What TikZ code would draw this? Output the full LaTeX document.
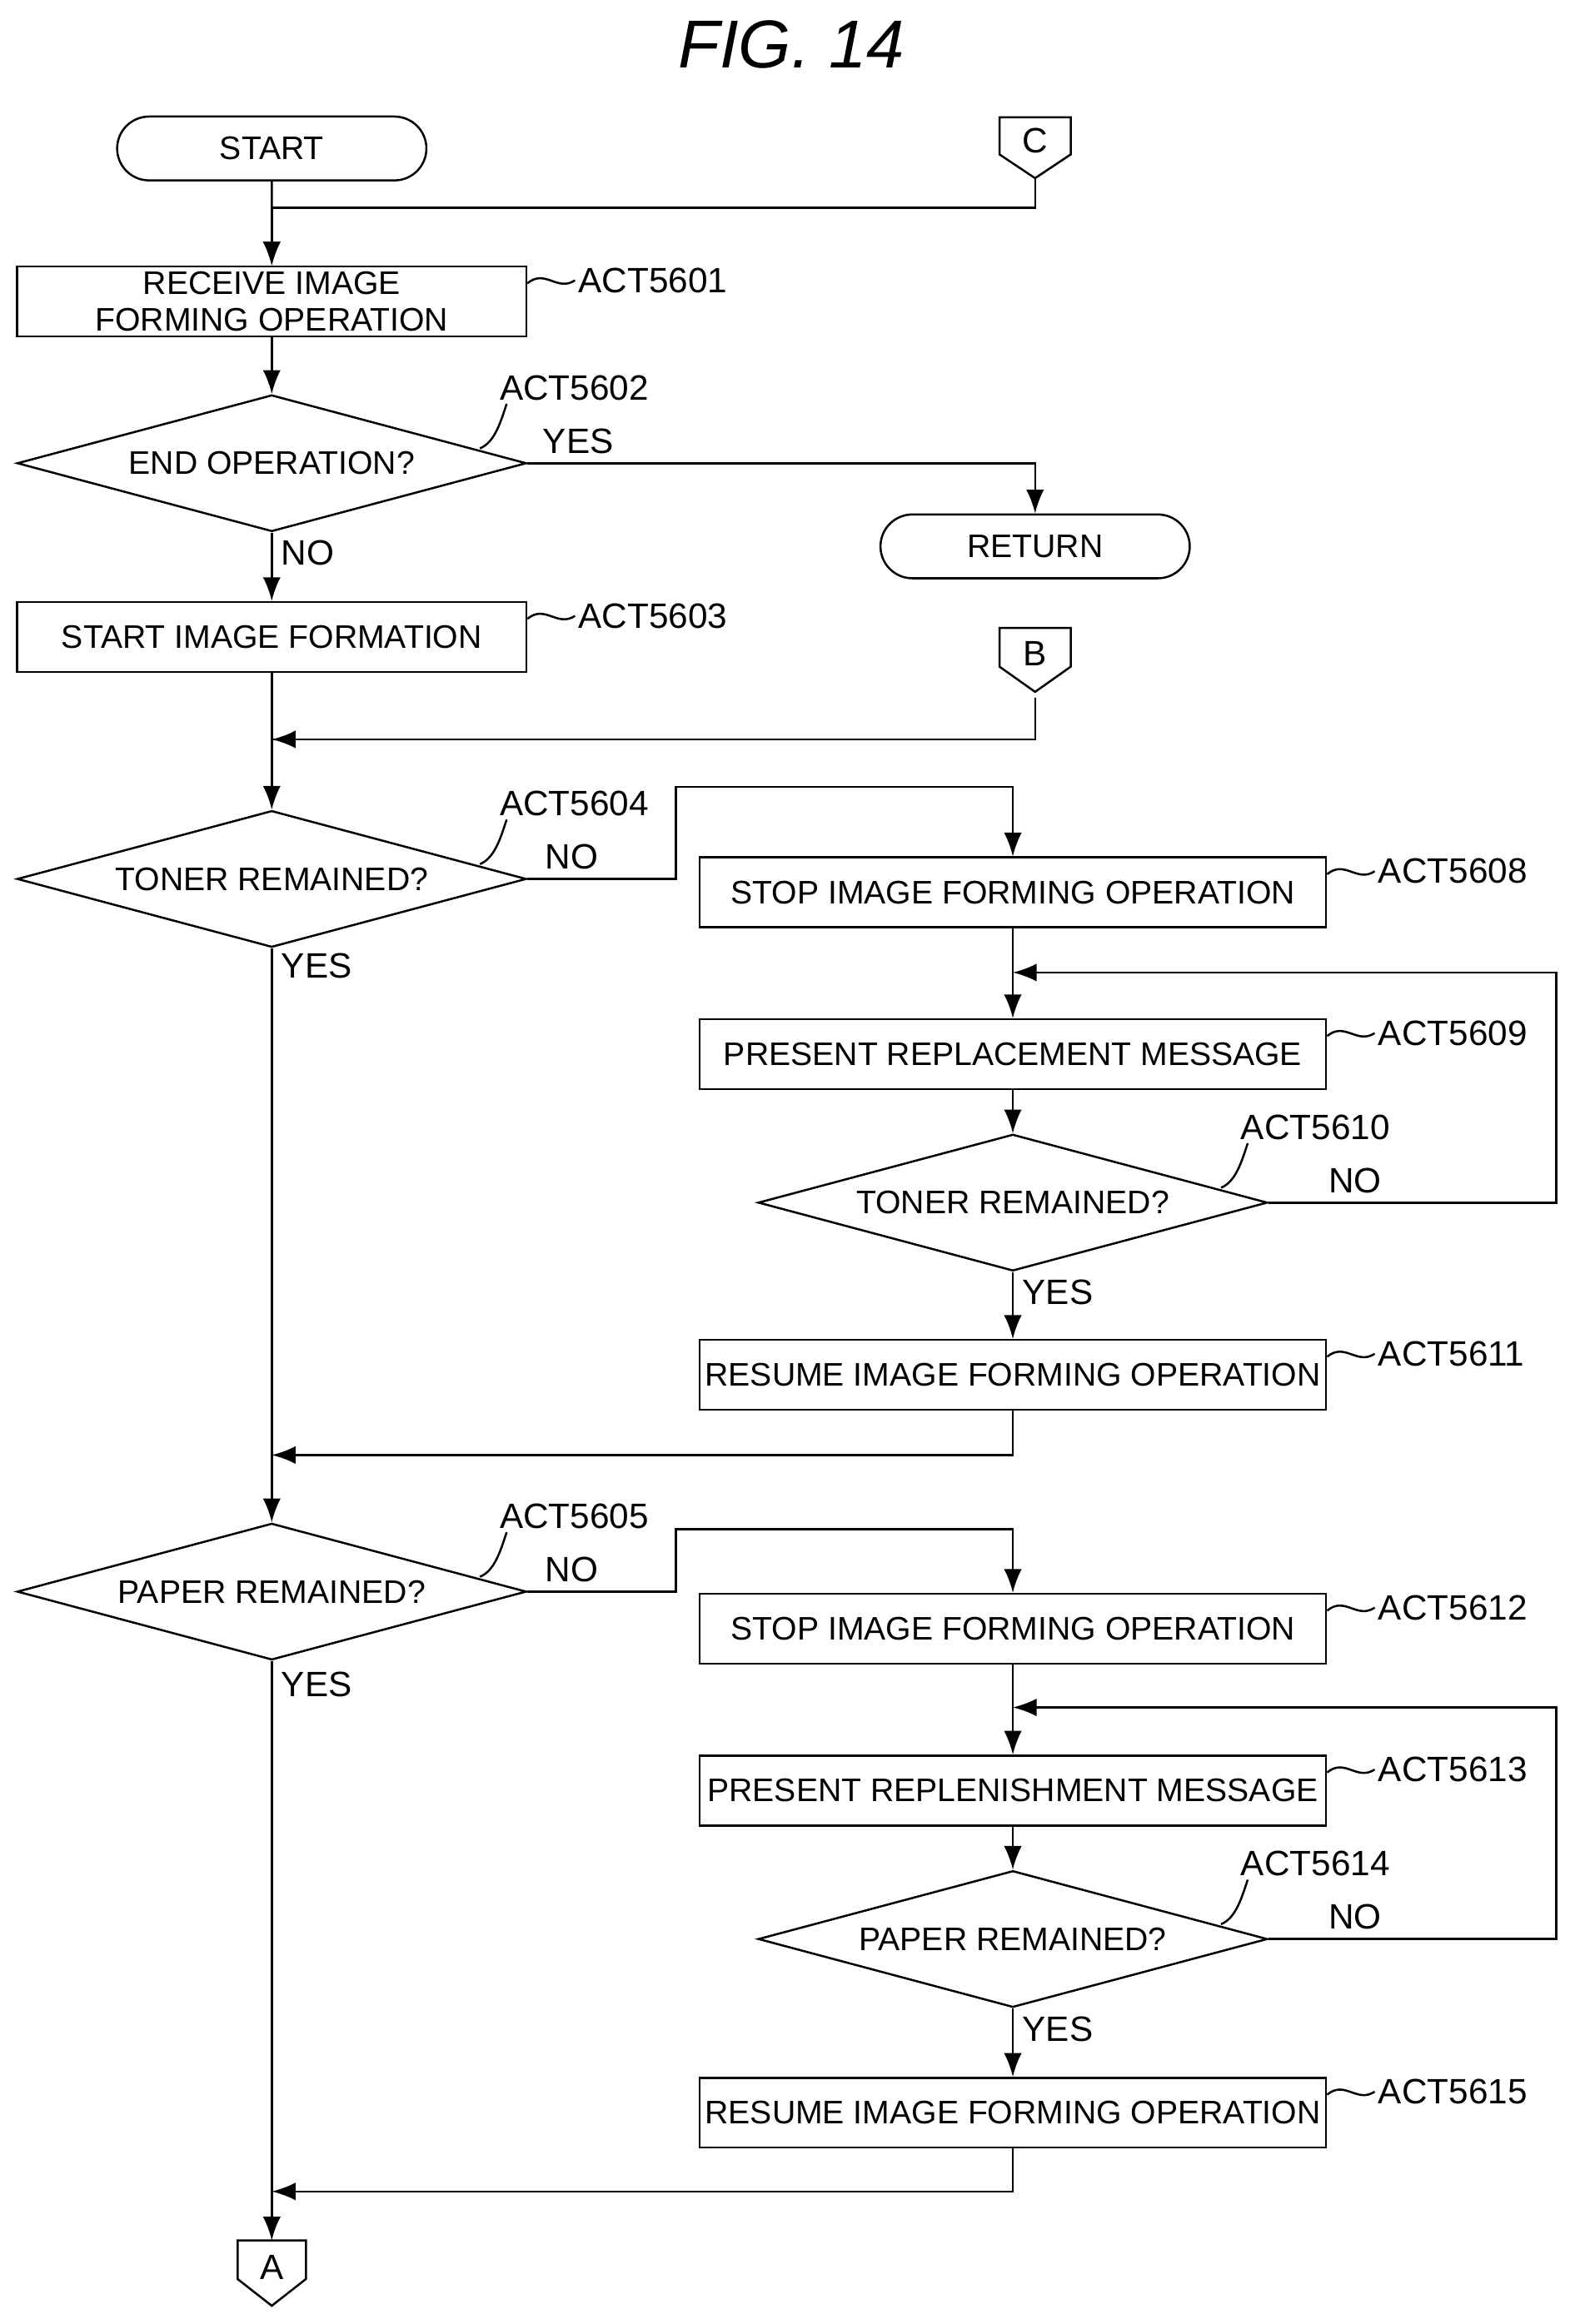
\documentclass[tikz,border=0pt]{standalone}
\usepackage{fontspec}
\setmainfont{Liberation Sans}
\usetikzlibrary{shapes.geometric,shapes.misc,arrows.meta}
\tikzset{
  box/.style={draw, thick, rectangle, minimum width=6.86cm, minimum height=0.94cm, inner sep=0pt, font=\fontsize{12.5}{14}\selectfont, align=center},
  wbox/.style={box, minimum width=8.44cm},
  term/.style={draw, thick, rounded rectangle, minimum width=4.4cm, minimum height=0.86cm, font=\fontsize{12.5}{14}\selectfont},
  dec/.style={draw, thick, diamond, aspect=3.73, minimum width=6.86cm, minimum height=1.84cm, inner sep=0pt, font=\fontsize{12.5}{14}\selectfont},
  lbl/.style={font=\fontsize{13.5}{15}\selectfont},
  flow/.style={thick, -{Latex[length=3.2mm,width=2.4mm]}},
  line/.style={thick}
}
\begin{document}
\begin{tikzpicture}[x=0.02cm, y=-0.02cm]
\useasboundingbox (0,0) rectangle (1060,1565.3);
%% Title
	\node[font=\itshape\fontsize{26}{30}\selectfont] (title) at (533,30) {FIG. 14};

%% Main column
	\node[term] (start) at (183,100) {START};
	\node[box] (a5601) at (183,203) {RECEIVE IMAGE\\FORMING OPERATION};
	\node[dec] (a5602) at (183,312) {END OPERATION?};
	\node[term] (ret) at (697,368) {RETURN};
	\node[box] (a5603) at (183,429) {START IMAGE FORMATION};
	\node[dec] (a5604) at (183,592) {TONER REMAINED?};
	\node[dec] (a5605) at (183,1072) {PAPER REMAINED?};

%% Toner branch
	\node[wbox] (a5608) at (682,601) {STOP IMAGE FORMING OPERATION};
	\node[wbox] (a5609) at (682,710) {PRESENT REPLACEMENT MESSAGE};
	\node[dec] (a5610) at (682,810) {TONER REMAINED?};
	\node[wbox] (a5611) at (682,926) {RESUME IMAGE FORMING OPERATION};

%% Paper branch
	\node[wbox] (a5612) at (682,1097) {STOP IMAGE FORMING OPERATION};
	\node[wbox] (a5613) at (682,1206) {PRESENT REPLENISHMENT MESSAGE};
	\node[dec] (a5614) at (682,1306) {PAPER REMAINED?};
	\node[wbox] (a5615) at (682,1423) {RESUME IMAGE FORMING OPERATION};

%% Connectors
	\node[lbl] (conC) at (697,95) {C};
	\draw[line] (conC.center) ++(-24,-16) -- ++(48,0) -- ++(0,25) -- ++(-24,16) -- ++(-24,-16) -- cycle;
	\coordinate (tipC) at (697,120);
	\node[lbl] (conB) at (697,440) {B};
	\draw[line] (conB.center) ++(-24,-17) -- ++(48,0) -- ++(0,26) -- ++(-24,17) -- ++(-24,-17) -- cycle;
	\coordinate (tipB) at (697,470);
	\node[lbl] (conA) at (183,1527) {A};
	\coordinate (topA) at (183,1509);
	\draw[line] (topA) ++(-23,0) -- ++(46,0) -- ++(0,26) -- ++(-23,18) -- ++(-23,-18) -- cycle;

%% ACT labels
	\foreach \n/\t in {a5601/ACT5601, a5603/ACT5603, a5608/ACT5608, a5609/ACT5609, a5611/ACT5611, a5612/ACT5612, a5613/ACT5613, a5615/ACT5615}
		\draw[line] (\n.north east) ++(0,12) .. controls +(12,-10) and +(-12,8) .. ++(32,-2) node[lbl, right, inner sep=1pt] {\t};
	\foreach \n/\t in {a5602/ACT5602, a5604/ACT5604, a5605/ACT5605, a5610/ACT5610, a5614/ACT5614}
		\draw[line] (\n.east) ++(-32,-10) .. controls +(10,-4) and +(-4,12) .. ++(18,-30) node[lbl, above right, inner sep=1pt, xshift=-4pt] {\t};

%% Flow lines
	\draw[flow] (start) -- (a5601);
	\draw[line] (tipC) |- (183,140);
	\draw[flow] (183,140) -- (a5601);
	\draw[flow] (a5601) -- (a5602);
	\draw[flow] (a5602.east) -| node[lbl, pos=0.05, above] {YES} (ret.north);
	\draw[flow] (a5602) -- node[lbl, right, pos=0.3] {NO} (a5603);
	\draw[line] (tipB) |- (183,498);
	\draw[flow] (a5603) -- (a5604);
	\draw[flow] (tipB |- 0,498) -- (183,498);
	\draw[flow] (a5604.east) -- node[lbl, above, pos=0.3] {NO} (455,592) |- (682,530) -- (a5608.north);
	\draw[flow] (a5608) -- (a5609);
	\draw[flow] (a5609) -- (a5610);
	\draw[flow] (a5610.east) -- node[lbl, above, pos=0.3] {NO} (1048,810) |- (682,655);
	\draw[flow] (a5610) -- node[lbl, right, pos=0.3] {YES} (a5611);
	\draw[flow] (a5611.south) |- (183,980);
	\draw[flow] (a5604) -- node[lbl, right, pos=0.03] {YES} (a5605);
	\draw[flow] (a5605.east) -- node[lbl, above, pos=0.3] {NO} (455,1072) |- (682,1030) -- (a5612.north);
	\draw[flow] (a5612) -- (a5613);
	\draw[flow] (a5613) -- (a5614);
	\draw[flow] (a5614.east) -- node[lbl, above, pos=0.3] {NO} (1048,1306) |- (682,1150);
	\draw[flow] (a5614) -- node[lbl, right, pos=0.3] {YES} (a5615);
	\draw[flow] (a5615.south) |- (183,1476);
	\draw[flow] (a5605) -- node[lbl, right, pos=0.04] {YES} (topA);
\end{tikzpicture}
\end{document}
